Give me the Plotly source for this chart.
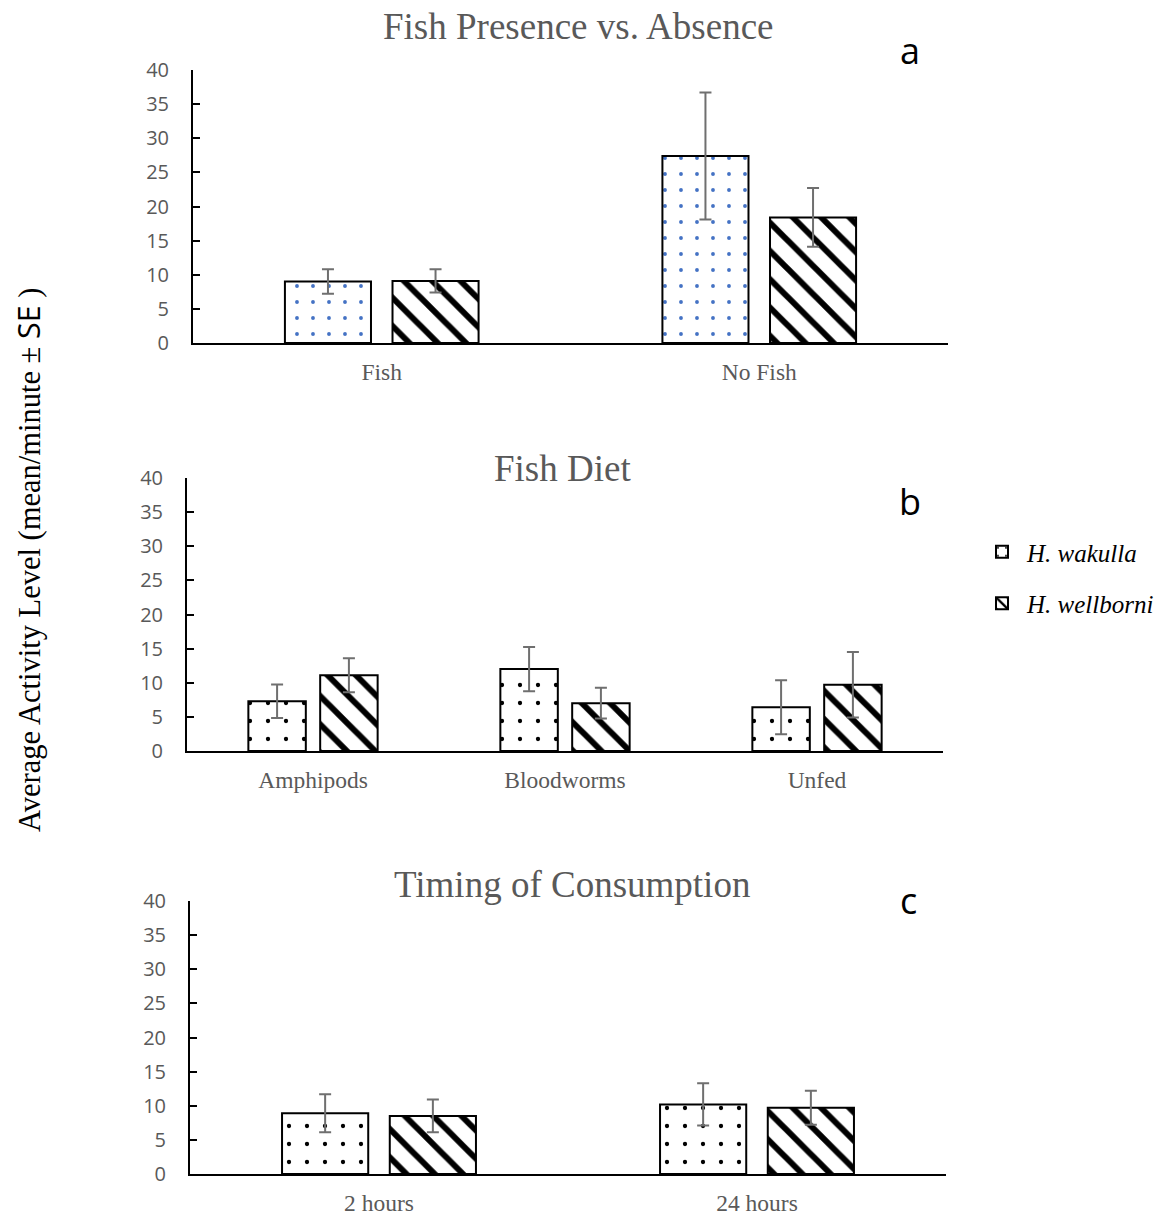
import plotly.graph_objects as go

# ---------------- data ----------------
cats_a = ["Fish", "No Fish"]
wak_a = [9.0, 27.4]
wak_a_se = [1.8, 9.3]
wel_a = [9.1, 18.4]
wel_a_se = [1.7, 4.3]

cats_b = ["Amphipods", "Bloodworms", "Unfed"]
wak_b = [7.3, 12.0, 6.4]
wak_b_se = [2.45, 3.25, 3.95]
wel_b = [11.1, 7.0, 9.7]
wel_b_se = [2.5, 2.25, 4.8]

cats_c = ["2 hours", "24 hours"]
wak_c = [8.9, 10.2]
wak_c_se = [2.8, 3.1]
wel_c = [8.5, 9.7]
wel_c_se = [2.4, 2.5]

titles = ["Fish Presence vs. Absence", "Fish Diet", "Timing of Consumption"]
letters = ["a", "b", "c"]
series_names = ["<i>H. wakulla</i>", "<i>H. wellborni</i>"]
y_ticks = [0, 5, 10, 15, 20, 25, 30, 35, 40]

# body margin is removed below, so the figure fills the 1170x1216 window
W, H = 1170, 1216
SERIF = "Liberation Serif, Times New Roman, serif"
SANS = "Open Sans, Calibri, sans-serif"
GRAY = "#595959"
ERR = "#6f6f6f"

def px(x):
    return x / W

def py(y):
    return 1 - y / H

# panel pixel boxes (window coords): (x0, x1, ybottom, ytop)
boxes = [(193, 948, 343, 70), (187, 943, 751, 478), (190, 946, 1174, 901)]

fig = go.Figure()

panels = [
    (cats_a, wak_a, wak_a_se, wel_a, wel_a_se, "#4472C4", 16),
    (cats_b, wak_b, wak_b_se, wel_b, wel_b_se, "black", 18),
    (cats_c, wak_c, wak_c_se, wel_c, wel_c_se, "black", 18),
]

for i, (cats, wk, wkse, wl, wlse, dotcol, dsize) in enumerate(panels):
    xa = "x" if i == 0 else f"x{i+1}"
    ya = "y" if i == 0 else f"y{i+1}"
    show = (i == 1)
    fig.add_trace(go.Bar(
        x=cats, y=wk, name=series_names[0], xaxis=xa, yaxis=ya,
        showlegend=show, legendgroup="wak",
        marker=dict(color="white", line=dict(color="black", width=2),
                    pattern=dict(shape=".", fgcolor=dotcol, bgcolor="white",
                                 fgopacity=1, fillmode="replace",
                                 size=dsize, solidity=0.045)),
        error_y=dict(type="data", array=wkse, visible=True, color=ERR,
                     thickness=2, width=6),
    ))
    fig.add_trace(go.Bar(
        x=cats, y=wl, name=series_names[1], xaxis=xa, yaxis=ya,
        showlegend=show, legendgroup="wel",
        marker=dict(color="white", line=dict(color="black", width=2),
                    pattern=dict(shape="\\", fgcolor="black", bgcolor="white",
                                 fgopacity=1, fillmode="replace",
                                 size=20, solidity=0.3)),
        error_y=dict(type="data", array=wlse, visible=True, color=ERR,
                     thickness=2, width=6),
    ))

layout = dict(
    width=W, height=H,
    margin=dict(l=0, r=0, t=0, b=0, pad=0, autoexpand=False),
    paper_bgcolor="white", plot_bgcolor="white",
    barmode="group", bargap=0.43, bargroupgap=0.2,
    showlegend=True,
    legend=dict(x=px(977), y=py(529), xanchor="left", yanchor="top",
                font=dict(family=SERIF, size=25, color="black"),
                tracegroupgap=16, bgcolor="rgba(0,0,0,0)",
                itemwidth=40),
)

for i, (x0, x1, yb, yt) in enumerate(boxes):
    suf = "" if i == 0 else str(i + 1)
    layout["xaxis" + suf] = dict(
        domain=[px(x0), px(x1)], anchor="y" + suf, automargin=False,
        showline=True, linecolor="black", linewidth=2,
        ticks="", showgrid=False, zeroline=False,
        tickfont=dict(family=SERIF, size=23.5, color=GRAY),
        ticklabelstandoff=7,
    )
    layout["yaxis" + suf] = dict(
        domain=[py(yb), py(yt)], anchor="x" + suf, automargin=False,
        range=[0, 40], tickvals=y_ticks,
        showline=True, linecolor="black", linewidth=2,
        ticks="inside", ticklen=7, tickwidth=2, tickcolor="black",
        showgrid=False, zeroline=False,
        tickfont=dict(family=SANS, size=20, color=GRAY),
        ticklabelstandoff=18,
    )

fig.update_layout(**layout)

ann = []
title_pos = [(578, 27), (562, 468), (572, 884)]
letter_pos = [(910, 50), (910, 502), (908, 900)]
for t, (tx, ty), l, (lx, ly) in zip(titles, title_pos, letters, letter_pos):
    ann.append(dict(text=t, x=px(tx), y=py(ty), xref="paper", yref="paper",
                    xanchor="center", yanchor="middle", showarrow=False,
                    borderpad=0,
                    font=dict(family=SERIF, size=37, color=GRAY)))
    ann.append(dict(text=l, x=px(lx), y=py(ly), xref="paper", yref="paper",
                    xanchor="center", yanchor="middle", showarrow=False,
                    font=dict(family=SANS, size=36, color="black")))

ann.append(dict(text="Average Activity Level (mean/minute ± <span style='font-family:Open Sans'>SE</span> )",
                x=px(28), y=py(560), xref="paper", yref="paper",
                xanchor="center", yanchor="middle", showarrow=False,
                textangle=-90, borderpad=0,
                font=dict(family=SERIF, size=30.5, color="black")))

fig.update_layout(annotations=ann)

fig.write_html("out.html", config={"displayModeBar": False},
               post_script="document.body.style.margin='0px';")
